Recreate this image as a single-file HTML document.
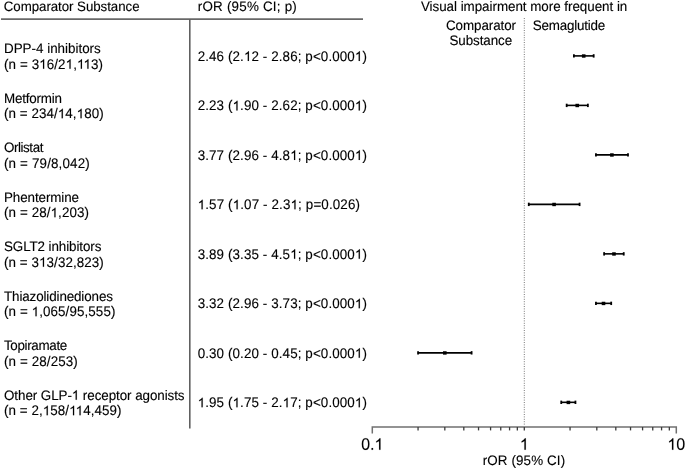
<!DOCTYPE html><html><head><meta charset="utf-8"><style>html,body{margin:0;padding:0;background:#fff;}svg{display:block;filter:grayscale(1);}text{font-family:"Liberation Sans",sans-serif;fill:#000;text-rendering:geometricPrecision;stroke:#000;stroke-width:0.12px;}path.g{stroke:#000;stroke-width:0.12px;vector-effect:non-scaling-stroke;}</style></head><body>
<svg width="685" height="469" viewBox="0 0 685 469">
<rect width="685" height="469" fill="#fff"/>
<line x1="1" y1="19.15" x2="363" y2="19.15" stroke="#686868" stroke-width="1.7"/>
<line x1="189.8" y1="19" x2="189.8" y2="428.6" stroke="#606060" stroke-width="1.6"/>
<line x1="524.3" y1="18" x2="524.3" y2="425" stroke="#777" stroke-width="1" stroke-dasharray="1 1.4"/>
<path d="M372.3 433.4 V427 H676.3 V433.4" fill="none" stroke="#707070" stroke-width="1.5"/>
<line x1="418.06" y1="427" x2="418.06" y2="430.4" stroke="#3c3c3c" stroke-width="1.3"/>
<line x1="444.82" y1="427" x2="444.82" y2="430.4" stroke="#3c3c3c" stroke-width="1.3"/>
<line x1="463.81" y1="427" x2="463.81" y2="430.4" stroke="#3c3c3c" stroke-width="1.3"/>
<line x1="478.54" y1="427" x2="478.54" y2="430.4" stroke="#3c3c3c" stroke-width="1.3"/>
<line x1="490.58" y1="427" x2="490.58" y2="430.4" stroke="#3c3c3c" stroke-width="1.3"/>
<line x1="500.75" y1="427" x2="500.75" y2="430.4" stroke="#3c3c3c" stroke-width="1.3"/>
<line x1="509.57" y1="427" x2="509.57" y2="430.4" stroke="#3c3c3c" stroke-width="1.3"/>
<line x1="517.34" y1="427" x2="517.34" y2="430.4" stroke="#3c3c3c" stroke-width="1.3"/>
<line x1="524.30" y1="427" x2="524.30" y2="430.4" stroke="#3c3c3c" stroke-width="1.3"/>
<line x1="570.06" y1="427" x2="570.06" y2="430.4" stroke="#3c3c3c" stroke-width="1.3"/>
<line x1="596.82" y1="427" x2="596.82" y2="430.4" stroke="#3c3c3c" stroke-width="1.3"/>
<line x1="615.81" y1="427" x2="615.81" y2="430.4" stroke="#3c3c3c" stroke-width="1.3"/>
<line x1="630.54" y1="427" x2="630.54" y2="430.4" stroke="#3c3c3c" stroke-width="1.3"/>
<line x1="642.58" y1="427" x2="642.58" y2="430.4" stroke="#3c3c3c" stroke-width="1.3"/>
<line x1="652.75" y1="427" x2="652.75" y2="430.4" stroke="#3c3c3c" stroke-width="1.3"/>
<line x1="661.57" y1="427" x2="661.57" y2="430.4" stroke="#3c3c3c" stroke-width="1.3"/>
<line x1="669.34" y1="427" x2="669.34" y2="430.4" stroke="#3c3c3c" stroke-width="1.3"/>
<path class="g" d="M1059 705Q1059 352 934.5 166.0Q810 -20 567 -20Q324 -20 202.0 165.0Q80 350 80 705Q80 1068 198.5 1249.0Q317 1430 573 1430Q822 1430 940.5 1247.0Q1059 1064 1059 705ZM876 705Q876 1010 805.5 1147.0Q735 1284 573 1284Q407 1284 334.5 1149.0Q262 1014 262 705Q262 405 335.5 266.0Q409 127 569 127Q728 127 802.0 269.0Q876 411 876 705Z" transform="translate(361.18 449.8) scale(0.007812 -0.008125)"/>
<path class="g" d="M187 0V219H382V0Z" transform="translate(370.08 449.8) scale(0.007812 -0.008125)"/>
<path class="g" d="M763 0H583V1098Q518 1039 412 979Q307 920 221 890V1057Q373 1125 487 1222Q601 1318 646 1409H763Z" transform="translate(374.52 449.8) scale(0.007812 -0.008125)"/>
<path class="g" d="M763 0H583V1098Q518 1039 412 979Q307 920 221 890V1057Q373 1125 487 1222Q601 1318 646 1409H763Z" transform="translate(519.85 449.8) scale(0.007812 -0.008125)"/>
<path class="g" d="M763 0H583V1098Q518 1039 412 979Q307 920 221 890V1057Q373 1125 487 1222Q601 1318 646 1409H763Z" transform="translate(667.40 449.8) scale(0.007812 -0.008125)"/>
<path class="g" d="M1059 705Q1059 352 934.5 166.0Q810 -20 567 -20Q324 -20 202.0 165.0Q80 350 80 705Q80 1068 198.5 1249.0Q317 1430 573 1430Q822 1430 940.5 1247.0Q1059 1064 1059 705ZM876 705Q876 1010 805.5 1147.0Q735 1284 573 1284Q407 1284 334.5 1149.0Q262 1014 262 705Q262 405 335.5 266.0Q409 127 569 127Q728 127 802.0 269.0Q876 411 876 705Z" transform="translate(676.30 449.8) scale(0.007812 -0.008125)"/>
<g transform="translate(3.80 10.60) scale(1 1.025)"><text id="h_cs_0" x="0" y="0" font-size="13.3" textLength="135.75" lengthAdjust="spacing">Comparator Substance</text></g>
<g transform="translate(197.80 10.60) scale(1 1.025)"><text id="h_ror_1" x="0" y="0" font-size="13.4" textLength="98.98" lengthAdjust="spacing">rOR (95% CI; p)</text></g>
<g transform="translate(420.90 10.60) scale(1 1.025)"><text id="h_vis_2" x="0" y="0" font-size="13.4" textLength="206.41" lengthAdjust="spacing">Visual impairment more frequent in</text></g>
<g transform="translate(446.00 30.20) scale(1 1.025)"><text id="h_comp_3" x="0" y="0" font-size="13.4" textLength="70.0" lengthAdjust="spacing">Comparator</text></g>
<g transform="translate(449.50 45.40) scale(1 1.025)"><text id="h_subs_4" x="0" y="0" font-size="13.4" textLength="62.58" lengthAdjust="spacing">Substance</text></g>
<g transform="translate(532.80 30.30) scale(1 1.025)"><text id="h_sema_5" x="0" y="0" font-size="13.4" textLength="72.35" lengthAdjust="spacing">Semaglutide</text></g>
<g transform="translate(482.70 465.30) scale(1 1.025)"><text id="ax_lbl_6" x="0" y="0" font-size="13.4" textLength="82.41" lengthAdjust="spacing">rOR (95% CI)</text></g>
<g transform="translate(4.00 53.30) scale(1 1.025)"><text id="r0a_7" x="0" y="0" font-size="13.4" textLength="96.75" lengthAdjust="spacing">DPP-4 inhibitors</text></g>
<g transform="translate(4.00 68.80) scale(1 1.04)"><text id="r0b_8" x="0" y="0" font-size="13.4" textLength="99.06" lengthAdjust="spacing">(n = 3<tspan style="fill:none;stroke:none">1</tspan>6/2<tspan style="fill:none;stroke:none">1</tspan>,<tspan style="fill:none;stroke:none">1</tspan><tspan style="fill:none;stroke:none">1</tspan>3)</text><path class="g" d="M763 0H583V1098Q518 1039 412 979Q307 920 221 890V1057Q373 1125 487 1222Q601 1318 646 1409H763Z" transform="translate(35.18 0) scale(0.006543 -0.006543)"/><path class="g" d="M763 0H583V1098Q518 1039 412 979Q307 920 221 890V1057Q373 1125 487 1222Q601 1318 646 1409H763Z" transform="translate(61.62 0) scale(0.006543 -0.006543)"/><path class="g" d="M763 0H583V1098Q518 1039 412 979Q307 920 221 890V1057Q373 1125 487 1222Q601 1318 646 1409H763Z" transform="translate(72.98 0) scale(0.006543 -0.006543)"/><path class="g" d="M763 0H583V1098Q518 1039 412 979Q307 920 221 890V1057Q373 1125 487 1222Q601 1318 646 1409H763Z" transform="translate(79.51 0) scale(0.006543 -0.006543)"/></g>
<g transform="translate(197.70 60.90) scale(1 1.04)"><text id="val_9" x="0" y="0" font-size="13.4" textLength="169.19" lengthAdjust="spacing">2.46 (2.<tspan style="fill:none;stroke:none">1</tspan>2 - 2.86; p&lt;0.000<tspan style="fill:none;stroke:none">1</tspan>)</text><path class="g" d="M763 0H583V1098Q518 1039 412 979Q307 920 221 890V1057Q373 1125 487 1222Q601 1318 646 1409H763Z" transform="translate(46.24 0) scale(0.006543 -0.006543)"/><path class="g" d="M763 0H583V1098Q518 1039 412 979Q307 920 221 890V1057Q373 1125 487 1222Q601 1318 646 1409H763Z" transform="translate(157.17 0) scale(0.006543 -0.006543)"/></g>
<g transform="translate(4.00 102.79) scale(1 1.025)"><text id="r1a_10" x="0" y="0" font-size="13.4" textLength="57.93" lengthAdjust="spacing">Metformin</text></g>
<g transform="translate(4.00 118.29) scale(1 1.04)"><text id="r1b_11" x="0" y="0" font-size="13.4" textLength="99.66" lengthAdjust="spacing">(n = 234/<tspan style="fill:none;stroke:none">1</tspan>4,<tspan style="fill:none;stroke:none">1</tspan>80)</text><path class="g" d="M763 0H583V1098Q518 1039 412 979Q307 920 221 890V1057Q373 1125 487 1222Q601 1318 646 1409H763Z" transform="translate(53.84 0) scale(0.006543 -0.006543)"/><path class="g" d="M763 0H583V1098Q518 1039 412 979Q307 920 221 890V1057Q373 1125 487 1222Q601 1318 646 1409H763Z" transform="translate(72.66 0) scale(0.006543 -0.006543)"/></g>
<g transform="translate(197.70 110.39) scale(1 1.04)"><text id="val_12" x="0" y="0" font-size="13.4" textLength="169.19" lengthAdjust="spacing">2.23 (<tspan style="fill:none;stroke:none">1</tspan>.90 - 2.62; p&lt;0.000<tspan style="fill:none;stroke:none">1</tspan>)</text><path class="g" d="M763 0H583V1098Q518 1039 412 979Q307 920 221 890V1057Q373 1125 487 1222Q601 1318 646 1409H763Z" transform="translate(34.86 0) scale(0.006543 -0.006543)"/><path class="g" d="M763 0H583V1098Q518 1039 412 979Q307 920 221 890V1057Q373 1125 487 1222Q601 1318 646 1409H763Z" transform="translate(157.17 0) scale(0.006543 -0.006543)"/></g>
<g transform="translate(4.00 152.28) scale(1 1.025)"><text id="r2a_13" x="0" y="0" font-size="13.4" textLength="39.42" lengthAdjust="spacing">Orlistat</text></g>
<g transform="translate(4.00 167.78) scale(1 1.04)"><text id="r2b_14" x="0" y="0" font-size="13.4" textLength="85.77" lengthAdjust="spacing">(n = 79/8,042)</text></g>
<g transform="translate(197.70 159.88) scale(1 1.04)"><text id="val_15" x="0" y="0" font-size="13.4" textLength="169.19" lengthAdjust="spacing">3.77 (2.96 - 4.8<tspan style="fill:none;stroke:none">1</tspan>; p&lt;0.000<tspan style="fill:none;stroke:none">1</tspan>)</text><path class="g" d="M763 0H583V1098Q518 1039 412 979Q307 920 221 890V1057Q373 1125 487 1222Q601 1318 646 1409H763Z" transform="translate(92.48 0) scale(0.006543 -0.006543)"/><path class="g" d="M763 0H583V1098Q518 1039 412 979Q307 920 221 890V1057Q373 1125 487 1222Q601 1318 646 1409H763Z" transform="translate(157.17 0) scale(0.006543 -0.006543)"/></g>
<g transform="translate(4.00 201.77) scale(1 1.025)"><text id="r3a_16" x="0" y="0" font-size="13.4" textLength="75.04" lengthAdjust="spacing">Phentermine</text></g>
<g transform="translate(4.00 217.27) scale(1 1.04)"><text id="r3b_17" x="0" y="0" font-size="13.4" textLength="84.97" lengthAdjust="spacing">(n = 28/<tspan style="fill:none;stroke:none">1</tspan>,203)</text><path class="g" d="M763 0H583V1098Q518 1039 412 979Q307 920 221 890V1057Q373 1125 487 1222Q601 1318 646 1409H763Z" transform="translate(46.53 0) scale(0.006543 -0.006543)"/></g>
<g transform="translate(197.70 209.37) scale(1 1.04)"><text id="val3_18" x="0" y="0" font-size="13.4" textLength="162.25" lengthAdjust="spacing"><tspan style="fill:none;stroke:none">1</tspan>.57 (<tspan style="fill:none;stroke:none">1</tspan>.07 - 2.3<tspan style="fill:none;stroke:none">1</tspan>; p=0.026)</text><path class="g" d="M763 0H583V1098Q518 1039 412 979Q307 920 221 890V1057Q373 1125 487 1222Q601 1318 646 1409H763Z" transform="translate(0.00 0) scale(0.006543 -0.006543)"/><path class="g" d="M763 0H583V1098Q518 1039 412 979Q307 920 221 890V1057Q373 1125 487 1222Q601 1318 646 1409H763Z" transform="translate(35.00 0) scale(0.006543 -0.006543)"/><path class="g" d="M763 0H583V1098Q518 1039 412 979Q307 920 221 890V1057Q373 1125 487 1222Q601 1318 646 1409H763Z" transform="translate(92.85 0) scale(0.006543 -0.006543)"/></g>
<g transform="translate(4.00 251.26) scale(1 1.025)"><text id="r4a_19" x="0" y="0" font-size="13.4" textLength="97.45" lengthAdjust="spacing">SGLT2 inhibitors</text></g>
<g transform="translate(4.00 266.76) scale(1 1.04)"><text id="r4b_20" x="0" y="0" font-size="13.4" textLength="99.76" lengthAdjust="spacing">(n = 3<tspan style="fill:none;stroke:none">1</tspan>3/32,823)</text><path class="g" d="M763 0H583V1098Q518 1039 412 979Q307 920 221 890V1057Q373 1125 487 1222Q601 1318 646 1409H763Z" transform="translate(35.06 0) scale(0.006543 -0.006543)"/></g>
<g transform="translate(197.70 258.86) scale(1 1.04)"><text id="val_21" x="0" y="0" font-size="13.4" textLength="169.19" lengthAdjust="spacing">3.89 (3.35 - 4.5<tspan style="fill:none;stroke:none">1</tspan>; p&lt;0.000<tspan style="fill:none;stroke:none">1</tspan>)</text><path class="g" d="M763 0H583V1098Q518 1039 412 979Q307 920 221 890V1057Q373 1125 487 1222Q601 1318 646 1409H763Z" transform="translate(92.48 0) scale(0.006543 -0.006543)"/><path class="g" d="M763 0H583V1098Q518 1039 412 979Q307 920 221 890V1057Q373 1125 487 1222Q601 1318 646 1409H763Z" transform="translate(157.17 0) scale(0.006543 -0.006543)"/></g>
<g transform="translate(4.00 300.75) scale(1 1.025)"><text id="r5a_22" x="0" y="0" font-size="13.4" textLength="108.92" lengthAdjust="spacing">Thiazolidinediones</text></g>
<g transform="translate(4.00 316.25) scale(1 1.04)"><text id="r5b_23" x="0" y="0" font-size="13.4" textLength="111.41" lengthAdjust="spacing">(n = <tspan style="fill:none;stroke:none">1</tspan>,065/95,555)</text><path class="g" d="M763 0H583V1098Q518 1039 412 979Q307 920 221 890V1057Q373 1125 487 1222Q601 1318 646 1409H763Z" transform="translate(27.64 0) scale(0.006543 -0.006543)"/></g>
<g transform="translate(197.70 308.35) scale(1 1.04)"><text id="val_24" x="0" y="0" font-size="13.4" textLength="169.19" lengthAdjust="spacing">3.32 (2.96 - 3.73; p&lt;0.000<tspan style="fill:none;stroke:none">1</tspan>)</text><path class="g" d="M763 0H583V1098Q518 1039 412 979Q307 920 221 890V1057Q373 1125 487 1222Q601 1318 646 1409H763Z" transform="translate(157.17 0) scale(0.006543 -0.006543)"/></g>
<g transform="translate(4.00 350.24) scale(1 1.025)"><text id="r6a_25" x="0" y="0" font-size="13.4" textLength="63.25" lengthAdjust="spacing">Topiramate</text></g>
<g transform="translate(4.00 365.74) scale(1 1.04)"><text id="r6b_26" x="0" y="0" font-size="13.4" textLength="73.79" lengthAdjust="spacing">(n = 28/253)</text></g>
<g transform="translate(197.70 357.84) scale(1 1.04)"><text id="val_27" x="0" y="0" font-size="13.4" textLength="169.19" lengthAdjust="spacing">0.30 (0.20 - 0.45; p&lt;0.000<tspan style="fill:none;stroke:none">1</tspan>)</text><path class="g" d="M763 0H583V1098Q518 1039 412 979Q307 920 221 890V1057Q373 1125 487 1222Q601 1318 646 1409H763Z" transform="translate(157.17 0) scale(0.006543 -0.006543)"/></g>
<g transform="translate(4.00 399.73) scale(1 1.025)"><text id="r7a_28" x="0" y="0" font-size="13.4" textLength="180.56" lengthAdjust="spacing">Other GLP-<tspan style="fill:none;stroke:none">1</tspan> receptor agonists</text><path class="g" d="M763 0H583V1098Q518 1039 412 979Q307 920 221 890V1057Q373 1125 487 1222Q601 1318 646 1409H763Z" transform="translate(67.82 0) scale(0.006543 -0.006543)"/></g>
<g transform="translate(4.00 415.23) scale(1 1.04)"><text id="r7b_29" x="0" y="0" font-size="13.4" textLength="117.47" lengthAdjust="spacing">(n = 2,<tspan style="fill:none;stroke:none">1</tspan>58/<tspan style="fill:none;stroke:none">1</tspan><tspan style="fill:none;stroke:none">1</tspan>4,459)</text><path class="g" d="M763 0H583V1098Q518 1039 412 979Q307 920 221 890V1057Q373 1125 487 1222Q601 1318 646 1409H763Z" transform="translate(38.81 0) scale(0.006543 -0.006543)"/><path class="g" d="M763 0H583V1098Q518 1039 412 979Q307 920 221 890V1057Q373 1125 487 1222Q601 1318 646 1409H763Z" transform="translate(65.14 0) scale(0.006543 -0.006543)"/><path class="g" d="M763 0H583V1098Q518 1039 412 979Q307 920 221 890V1057Q373 1125 487 1222Q601 1318 646 1409H763Z" transform="translate(71.65 0) scale(0.006543 -0.006543)"/></g>
<g transform="translate(197.70 407.33) scale(1 1.04)"><text id="val_30" x="0" y="0" font-size="13.4" textLength="169.19" lengthAdjust="spacing"><tspan style="fill:none;stroke:none">1</tspan>.95 (<tspan style="fill:none;stroke:none">1</tspan>.75 - 2.<tspan style="fill:none;stroke:none">1</tspan>7; p&lt;0.000<tspan style="fill:none;stroke:none">1</tspan>)</text><path class="g" d="M763 0H583V1098Q518 1039 412 979Q307 920 221 890V1057Q373 1125 487 1222Q601 1318 646 1409H763Z" transform="translate(0.00 0) scale(0.006543 -0.006543)"/><path class="g" d="M763 0H583V1098Q518 1039 412 979Q307 920 221 890V1057Q373 1125 487 1222Q601 1318 646 1409H763Z" transform="translate(34.86 0) scale(0.006543 -0.006543)"/><path class="g" d="M763 0H583V1098Q518 1039 412 979Q307 920 221 890V1057Q373 1125 487 1222Q601 1318 646 1409H763Z" transform="translate(84.93 0) scale(0.006543 -0.006543)"/><path class="g" d="M763 0H583V1098Q518 1039 412 979Q307 920 221 890V1057Q373 1125 487 1222Q601 1318 646 1409H763Z" transform="translate(157.17 0) scale(0.006543 -0.006543)"/></g>
<line x1="573.90" y1="55.90" x2="593.67" y2="55.90" stroke="#000" stroke-width="1.6"/>
<line x1="573.90" y1="54.20" x2="573.90" y2="57.60" stroke="#000" stroke-width="1.8"/>
<line x1="593.67" y1="54.20" x2="593.67" y2="57.60" stroke="#000" stroke-width="1.8"/>
<rect x="581.92" y="54.30" width="3.6" height="3.4" fill="#000"/>
<line x1="566.67" y1="105.39" x2="587.88" y2="105.39" stroke="#000" stroke-width="1.6"/>
<line x1="566.67" y1="103.69" x2="566.67" y2="107.09" stroke="#000" stroke-width="1.8"/>
<line x1="587.88" y1="103.69" x2="587.88" y2="107.09" stroke="#000" stroke-width="1.8"/>
<rect x="575.44" y="103.79" width="3.6" height="3.4" fill="#000"/>
<line x1="595.94" y1="154.88" x2="627.99" y2="154.88" stroke="#000" stroke-width="1.6"/>
<line x1="595.94" y1="153.18" x2="595.94" y2="156.58" stroke="#000" stroke-width="1.8"/>
<line x1="627.99" y1="153.18" x2="627.99" y2="156.58" stroke="#000" stroke-width="1.8"/>
<rect x="610.10" y="153.28" width="3.6" height="3.4" fill="#000"/>
<line x1="528.77" y1="204.37" x2="579.57" y2="204.37" stroke="#000" stroke-width="1.6"/>
<line x1="528.77" y1="202.67" x2="528.77" y2="206.07" stroke="#000" stroke-width="1.8"/>
<line x1="579.57" y1="202.67" x2="579.57" y2="206.07" stroke="#000" stroke-width="1.8"/>
<rect x="552.28" y="202.77" width="3.6" height="3.4" fill="#000"/>
<line x1="604.11" y1="253.86" x2="623.73" y2="253.86" stroke="#000" stroke-width="1.6"/>
<line x1="604.11" y1="252.16" x2="604.11" y2="255.56" stroke="#000" stroke-width="1.8"/>
<line x1="623.73" y1="252.16" x2="623.73" y2="255.56" stroke="#000" stroke-width="1.8"/>
<rect x="612.17" y="252.26" width="3.6" height="3.4" fill="#000"/>
<line x1="595.94" y1="303.35" x2="611.20" y2="303.35" stroke="#000" stroke-width="1.6"/>
<line x1="595.94" y1="301.65" x2="595.94" y2="305.05" stroke="#000" stroke-width="1.8"/>
<line x1="611.20" y1="301.65" x2="611.20" y2="305.05" stroke="#000" stroke-width="1.8"/>
<rect x="601.71" y="301.75" width="3.6" height="3.4" fill="#000"/>
<line x1="418.06" y1="352.84" x2="471.59" y2="352.84" stroke="#000" stroke-width="1.6"/>
<line x1="418.06" y1="351.14" x2="418.06" y2="354.54" stroke="#000" stroke-width="1.8"/>
<line x1="471.59" y1="351.14" x2="471.59" y2="354.54" stroke="#000" stroke-width="1.8"/>
<rect x="443.02" y="351.24" width="3.6" height="3.4" fill="#000"/>
<line x1="561.24" y1="402.33" x2="575.44" y2="402.33" stroke="#000" stroke-width="1.6"/>
<line x1="561.24" y1="400.63" x2="561.24" y2="404.03" stroke="#000" stroke-width="1.8"/>
<line x1="575.44" y1="400.63" x2="575.44" y2="404.03" stroke="#000" stroke-width="1.8"/>
<rect x="566.59" y="400.73" width="3.6" height="3.4" fill="#000"/>
</svg></body></html>
